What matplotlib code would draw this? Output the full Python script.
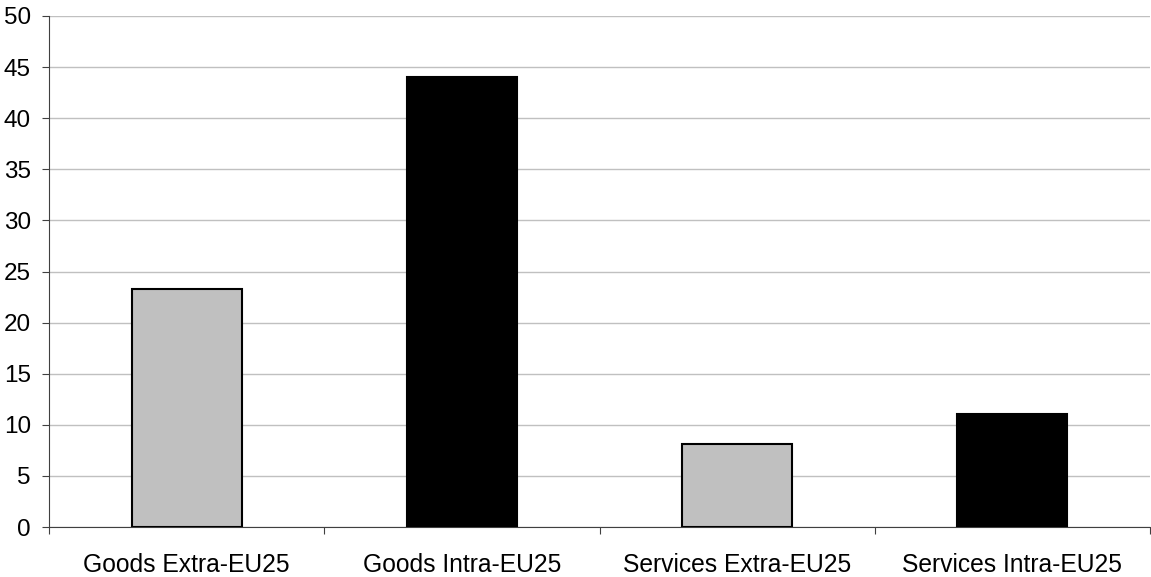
import numpy as np
import matplotlib.pyplot as plt

plt.rcParams['font.family'] = ['Liberation Sans', 'DejaVu Sans']

# data
categories = ['Goods Extra-EU25', 'Goods Intra-EU25', 'Services Extra-EU25', 'Services Intra-EU25']
values = [23.3, 44.0, 8.1, 11.1]
colors = ['#c0c0c0', '#000000', '#c0c0c0', '#000000']

fig = plt.figure(figsize=(11.51, 5.77), dpi=100)
ax = fig.add_axes([49 / 1151, 1 - 527 / 577, 1 - 49 / 1151 - 1 / 1151, (527 - 16) / 577])

x = np.arange(len(categories))
ax.bar(x, values, width=0.4, color=colors, edgecolor='black', linewidth=1.5, zorder=3)

ax.set_xlim(-0.5, len(categories) - 0.5)
ax.set_ylim(0, 50)
ax.set_yticks(np.arange(0, 51, 5))
ax.yaxis.grid(True, color='#c0c0c0', linewidth=1)

# category labels between boundary ticks
ax.set_xticks(np.arange(-0.5, len(categories), 1))
ax.set_xticklabels([])
ax.set_xticks(x, minor=True)
ax.set_xticklabels(categories, minor=True)
ax.tick_params(axis='x', which='minor', length=0, pad=19, labelsize=17.7)
ax.tick_params(axis='x', which='major', length=5, color='#404040')
ax.tick_params(axis='y', length=5, labelsize=17.5, color='#404040', pad=8)

for s in ['top', 'right']:
    ax.spines[s].set_visible(False)
for s in ['left', 'bottom']:
    ax.spines[s].set_color('#404040')

fig.savefig('out.png', dpi=100)
